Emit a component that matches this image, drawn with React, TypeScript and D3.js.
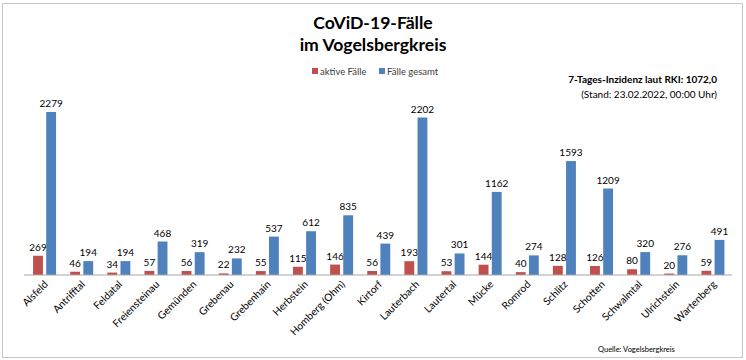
import React from "react";
import * as d3 from "d3";

const categories = [
  "Alsfeld", "Antrifftal", "Feldatal", "Freiensteinau", "Gemünden", "Grebenau",
  "Grebenhain", "Herbstein", "Homberg (Ohm)", "Kirtorf", "Lauterbach", "Lautertal",
  "Mücke", "Romrod", "Schlitz", "Schotten", "Schwalmtal", "Ulrichstein", "Wartenberg",
];
const aktiveFaelle = [269, 46, 34, 57, 56, 22, 55, 115, 146, 56, 193, 53, 144, 40, 128, 126, 80, 20, 59];
const faelleGesamt = [2279, 194, 194, 468, 319, 232, 537, 612, 835, 439, 2202, 301, 1162, 274, 1593, 1209, 320, 276, 491];
const seriesNames = ["aktive Fälle", "Fälle gesamt"];
const seriesColors = ["#c0504d", "#4f81bd"];
const titleLines = ["CoViD-19-Fälle", "im Vogelsbergkreis"];
const incidenceLines = ["7-Tages-Inzidenz laut RKI: 1072,0", "(Stand: 23.02.2022, 00:00 Uhr)"];
const sourceText = "Quelle: Vogelsbergkreis";

const W = 746;
const H = 360;
const FONT = "Lato, 'Open Sans', 'Liberation Sans', sans-serif";

export default function App() {
  const x = d3.scaleBand<string>().domain(categories).range([26, 731.5]);
  const y = d3.scaleLinear().domain([0, 2500]).range([275, 96.2]);
  const groupW = 23;
  const sub = d3
    .scaleBand<string>()
    .domain(seriesNames)
    .range([(x.bandwidth() - groupW) / 2, (x.bandwidth() + groupW) / 2])
    .paddingInner(0.25);
  const series = [aktiveFaelle, faelleGesamt];

  return (
    <div style={{ position: "fixed", left: 0, top: 0 }}>
      <svg width={W} height={H} style={{ display: "block", background: "#fff" }} fontFamily={FONT}>
        <rect x={2.5} y={3.5} width={740} height={354} fill="#fff" stroke="#c8c8c8" strokeWidth={1} />
        {titleLines.map((t, i) => (
          <text key={t} x={373} y={29 + i * 21.5} textAnchor="middle" fontSize={17.6} fontWeight="bold" fill="#000">
            {t}
          </text>
        ))}
        {/* legend */}
        <g fontSize={9.5} fill="#404040">
          <rect x={312} y={68} width={6} height={6} fill={seriesColors[0]} />
          <text x={320} y={74.5}>{seriesNames[0]}</text>
          <rect x={379} y={68} width={6} height={6} fill={seriesColors[1]} />
          <text x={387} y={74.5}>{seriesNames[1]}</text>
        </g>
        <text x={717} y={83} textAnchor="end" fontSize={10} fontWeight="bold" fill="#000">
          {incidenceLines[0]}
        </text>
        <text x={717} y={98} textAnchor="end" fontSize={10} fill="#000">
          {incidenceLines[1]}
        </text>
        {/* bars */}
        {categories.map((c, i) => (
          <g key={c} transform={`translate(${x(c)},0)`}>
            {series.map((s, k) => {
              const bx = sub(seriesNames[k]) as number;
              const v = s[i];
              return (
                <g key={k}>
                  <rect x={bx} y={y(v)} width={sub.bandwidth()} height={y(0) - y(v)} fill={seriesColors[k]} />
                  <text x={bx + sub.bandwidth() / 2} y={y(v) - 5} textAnchor="middle" fontSize={10} fill="#000">
                    {v}
                  </text>
                </g>
              );
            })}
          </g>
        ))}
        <line x1={24} x2={732} y1={y(0)} y2={y(0)} stroke="#a6a6a6" strokeWidth={1} />
        {categories.map((c) => {
          const cx = (x(c) as number) + x.bandwidth() / 2;
          return (
            <text
              key={c}
              transform={`translate(${cx + 4},${285}) rotate(-45)`}
              textAnchor="end"
              fontSize={10.3}
              fill="#000"
            >
              {c}
            </text>
          );
        })}
        <text x={598} y={352} fontSize={7.5} fill="#000">
          {sourceText}
        </text>
      </svg>
    </div>
  );
}
